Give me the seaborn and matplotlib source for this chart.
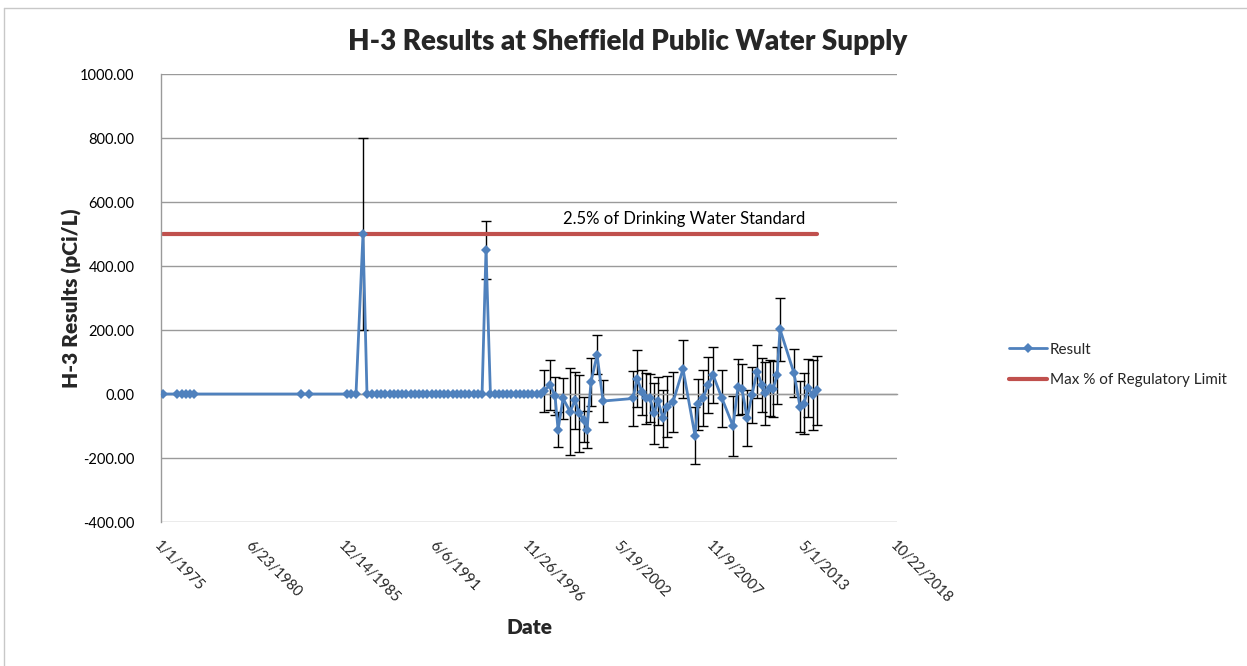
import matplotlib
matplotlib.use("Agg")
import matplotlib.pyplot as plt
import matplotlib.dates as mdates
from matplotlib.lines import Line2D
from matplotlib.ticker import FuncFormatter
import pandas as pd
import seaborn as sns

# ---- H-3 sampling results at the Sheffield public water supply ----
sample_dates = [
    # early routine samples
    "1975-02-15", "1975-12-15", "1976-04-02", "1976-06-28", "1976-09-22", "1976-12-18",
    "1983-05-03", "1983-10-24",
    "1986-01-27", "1986-04-24", "1986-08-10", "1987-01-09", "1987-04-06", "1987-07-24",
    "1987-11-10",
    # quarterly program
    "1988-02-10", "1988-05-10", "1988-08-10", "1988-11-10",
    "1989-02-10", "1989-05-10", "1989-08-10", "1989-11-10",
    "1990-02-10", "1990-05-10", "1990-08-10", "1990-11-10",
    "1991-02-10", "1991-05-10", "1991-08-10", "1991-11-10",
    "1992-02-10", "1992-05-10", "1992-08-10", "1992-11-10",
    "1993-02-10", "1993-05-10", "1993-08-10", "1993-11-10",
    "1994-02-10", "1994-05-06", "1994-08-10", "1994-11-10",
    "1995-02-10", "1995-05-10", "1995-08-10", "1995-11-10",
    "1996-02-10", "1996-05-10", "1996-08-10", "1996-11-10",
    "1997-02-10", "1997-05-10", "1997-08-10",
    # results reported with counting uncertainty
    "1997-10-19", "1998-02-27", "1998-06-15", "1998-08-20", "1998-12-06",
    "1999-05-08", "1999-08-24", "1999-11-19", "2000-03-06", "2000-05-10",
    "2000-08-05", "2000-12-15", "2001-04-24",
    "2003-02-05", "2003-05-03", "2003-08-20", "2003-11-15", "2004-02-10",
    "2004-05-07", "2004-08-02", "2004-11-18", "2005-02-12", "2005-06-23",
    "2006-01-26", "2006-10-14", "2006-12-18", "2007-04-06", "2007-07-24",
    "2007-11-09", "2008-05-23", "2009-01-17", "2009-05-06", "2009-08-01",
    "2009-11-18", "2010-03-06", "2010-06-23", "2010-10-10", "2010-12-14",
    "2011-04-02", "2011-06-06", "2011-09-01", "2011-11-05", "2012-09-04",
    "2013-01-13", "2013-04-10", "2013-07-06", "2013-10-22", "2014-01-17",
]

result_pci = [
    0, 0, 0, 0, 0, 0,
    0, 0,
    0, 0, 0, 500, 0, 0,
    0,
    0, 0, 0, 0,
    0, 0, 0, 0,
    0, 0, 0, 0,
    0, 0, 0, 0,
    0, 0, 0, 0,
    0, 0, 0, 0,
    0, 450, 0, 0,
    0, 0, 0, 0,
    0, 0, 0, 0,
    0, 0, 0,
    10, 28, -6, -112, -14,
    -55, -20, -60, -80, -112,
    38, 122, -22,
    -14, 48, 5, -14, -14,
    -60, -22, -76, -40, -25,
    78, -130, -32, -12, 28,
    60, -14, -100, 22, 17,
    -76, -3, 70, 28, 2,
    18, 15, 58, 202, 65,
    -40, -30, 18, -3, 12,
]

uncertainty_pci = [
    0, 0, 0, 0, 0, 0,
    0, 0,
    0, 0, 0, 300, 0, 0,
    0,
    0, 0, 0, 0,
    0, 0, 0, 0,
    0, 0, 0, 0,
    0, 0, 0, 0,
    0, 0, 0, 0,
    0, 0, 0, 0,
    0, 92, 0, 0,
    0, 0, 0, 0,
    0, 0, 0, 0,
    0, 0, 0,
    66, 78, 60, 55, 65,
    135, 90, 120, 70, 58,
    75, 61, 67,
    87, 88, 70, 80, 75,
    95, 75, 90, 95, 95,
    90, 90, 80, 88, 88,
    88, 88, 95, 88, 78,
    88, 88, 82, 85, 98,
    88, 88, 88, 98, 75,
    80, 95, 90, 108, 108,
]

# 2.5% of the 20,000 pCi/L drinking water standard
regulatory_limit_pci = 500.0

y_ticks = [-400, -200, 0, 200, 400, 600, 800, 1000]
x_tick_labels = ["1/1/1975", "6/23/1980", "12/14/1985", "6/6/1991", "11/26/1996",
                 "5/19/2002", "11/9/2007", "5/1/2013", "10/22/2018"]

BLUE = "#4F81BD"
RED = "#C0504D"
GRID = "#9A9A9A"

sns.set_style("white")
plt.rcParams["font.family"] = ["Lato", "DejaVu Sans"]

df = pd.DataFrame({
    "Date": pd.to_datetime(sample_dates),
    "Result": result_pci,
    "Uncertainty": uncertainty_pci,
})
df["Limit"] = regulatory_limit_pci

W, H = 1247, 666
fig = plt.figure(figsize=(W / 100, H / 100), dpi=100)
fig.patch.set_facecolor("white")
ax = fig.add_axes([161 / W, 1 - 522 / H, 736 / W, 448 / H])

# uncertainty bars only where an uncertainty was reported
bars = df[df["Uncertainty"] > 0]
ax.errorbar(bars["Date"], bars["Result"], yerr=bars["Uncertainty"], fmt="none",
            ecolor="black", elinewidth=1.0, capsize=3.5, capthick=1.0, zorder=2)

sns.lineplot(data=df, x="Date", y="Limit", ax=ax, color=RED, linewidth=3.0,
             label="Max % of Regulatory Limit", zorder=2.5)
sns.lineplot(data=df, x="Date", y="Result", ax=ax, color=BLUE, linewidth=2.0,
             marker="D", markersize=5.5, markeredgewidth=0, label="Result",
             zorder=3)

ax.text(pd.Timestamp("1998-12-01"), 522, "2.5% of Drinking Water Standard",
        fontsize=12, ha="left", va="bottom", color="black")

# axes ranges and ticks
tick_dates = pd.to_datetime(x_tick_labels, format="%m/%d/%Y")
ax.set_xlim(tick_dates[0], tick_dates[-1])
ax.set_ylim(y_ticks[0], y_ticks[-1])
ax.set_yticks(y_ticks)
ax.yaxis.set_major_formatter(FuncFormatter(lambda v, _: f"{v:.2f}"))
ax.tick_params(axis="y", direction="out", length=5, width=1, color=GRID,
               labelsize=10.5, pad=14, labelcolor="black")
ax.grid(axis="y", color=GRID, linewidth=1.0)
ax.grid(axis="x", visible=False)

for side in ("top", "right"):
    ax.spines[side].set_visible(False)
ax.spines["left"].set_color(GRID)
ax.spines["left"].set_linewidth(1.0)

# horizontal axis line crosses at zero, labels sit below the plot area
ax.spines["bottom"].set_position(("data", 0))
ax.spines["bottom"].set_color(GRID)
ax.spines["bottom"].set_linewidth(1.0)
ax.set_xticks(tick_dates)
ax.tick_params(axis="x", direction="out", length=4, width=1, color=GRID,
               labelbottom=False)
ax.set_xlabel("")
ax.set_ylabel("")

sec = ax.secondary_xaxis("bottom")
sec.set_xticks(mdates.date2num(tick_dates))
sec.set_xticklabels(x_tick_labels)
sec.tick_params(axis="x", length=0, pad=12, labelsize=10.5)
sec.spines["bottom"].set_visible(False)
for lbl in sec.get_xticklabels():
    lbl.set_rotation(-45)
    lbl.set_ha("left")
    lbl.set_va("top")
    lbl.set_rotation_mode("anchor")

# titles
fig.text(628 / W, 1 - 42 / H, "H-3 Results at Sheffield Public Water Supply",
         fontsize=20, fontweight="heavy", ha="center", va="center")
fig.text(529 / W, 1 - 628 / H, "Date", fontsize=15, fontweight="heavy",
         ha="center", va="center")
fig.text(72 / W, 1 - 298 / H, "H-3 Results (pCi/L)", fontsize=15,
         fontweight="heavy", rotation=90, ha="center", va="center")

# legend to the right of the plot area
handles, labels = ax.get_legend_handles_labels()
order = [labels.index("Result"), labels.index("Max % of Regulatory Limit")]
ax.legend([handles[i] for i in order], [labels[i] for i in order],
          loc="center left", bbox_to_anchor=(995 / W, 1 - 365 / H),
          bbox_transform=fig.transFigure, frameon=False, fontsize=11,
          handlelength=2.5, labelspacing=1.1, handletextpad=0.2)

# chart area border
fig.add_artist(Line2D([4 / W, 4 / W], [0, 1 - 8 / H], color="#C8C8C8", lw=1.0))
fig.add_artist(Line2D([4 / W, 1], [1 - 8 / H, 1 - 8 / H], color="#C8C8C8", lw=1.0))

fig.savefig("out.png", dpi=100, facecolor="white")
